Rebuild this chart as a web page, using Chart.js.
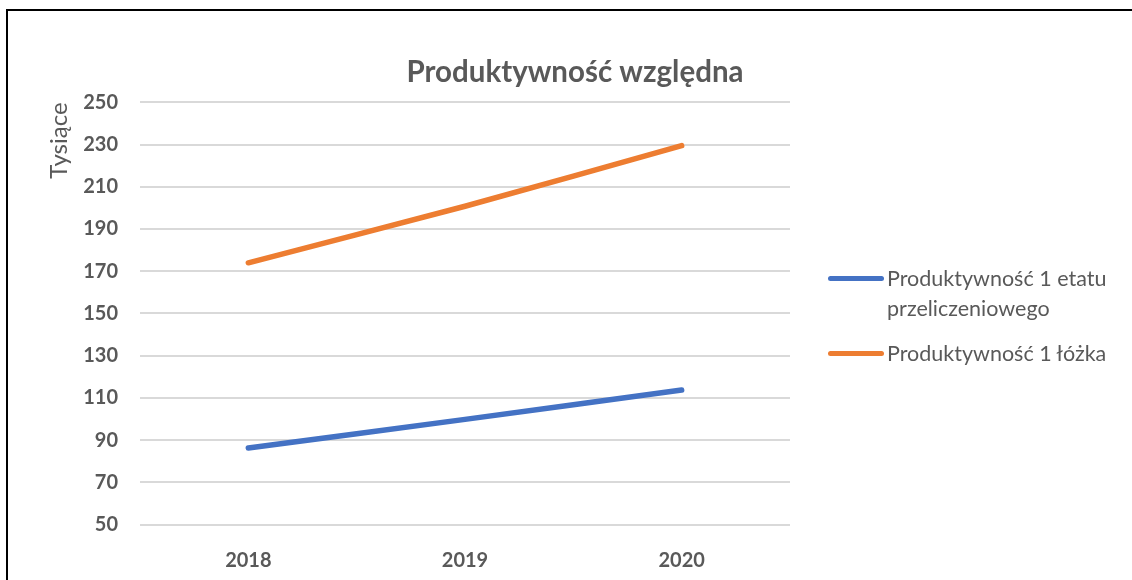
<!DOCTYPE html>
<html lang="pl">
<head>
  <meta charset="UTF-8">
  <title>Produktywność względna</title>
  <script src="https://cdn.jsdelivr.net/npm/chart.js"></script>
  <style>
    body {
      margin: 0;
      background: #fff;
      font-family: Lato, sans-serif;
    }
    #wrap {
      position: relative;
      width: 1132px;
      height: 580px;
      overflow: hidden;
    }
    #frame {
      position: absolute;
      left: 6px;
      top: 9px;
      width: 2000px;
      height: 2000px;
      border-left: 2px solid #000;
      border-top: 2px solid #000;
    }
    #legend {
      position: absolute;
      left: 828px;
      top: 263px;
      color: #595959;
      font-size: 21.5px;
      line-height: 30px;
    }
    .item {
      display: flex;
      align-items: flex-start;
      margin-bottom: 15px;
    }
    .swatch {
      width: 56px;
      height: 5px;
      border-radius: 3px;
      margin-top: 12.5px;
      margin-right: 3px;
      flex: none;
    }
    .label {
      width: 240px;
    }
  </style>
</head>
<body>
  <div id="wrap">
    <div id="frame"></div>
    <canvas id="chart" width="1132" height="580"></canvas>
    <div id="legend"></div>
  </div>

  <script>
    const years = ["2018", "2019", "2020"];
    const etat = [86.2, 99.8, 113.7];   // Produktywność 1 etatu przeliczeniowego
    const lozko = [174, 200.8, 229.5];  // Produktywność 1 łóżka
    const seriesNames = ["Produktywność 1 etatu przeliczeniowego", "Produktywność 1 łóżka"];
    const seriesColors = ["#4472C4", "#ED7D31"];

    const grey = "#595959";

    // puste miejsce po prawej na legendę (tytuł nadal na całą szerokość)
    const rightSpace = {
      id: "rightSpace",
      start(chart) {
        Chart.layouts.addBox(chart, {
          position: "right",
          weight: 0,
          fullSize: false,
          options: {},
          isHorizontal() { return false; },
          update() { this.width = 342; this.height = 0; },
          draw() {}
        });
      }
    };

    new Chart(document.getElementById("chart"), {
      type: "line",
      data: {
        labels: years,
        datasets: [
          {
            label: seriesNames[0],
            data: etat,
            borderColor: seriesColors[0],
            borderWidth: 5.5,
            borderCapStyle: "round",
            pointRadius: 0,
            tension: 0.25,
            fill: false
          },
          {
            label: seriesNames[1],
            data: lozko,
            borderColor: seriesColors[1],
            borderWidth: 5.5,
            borderCapStyle: "round",
            pointRadius: 0,
            tension: 0.25,
            fill: false
          }
        ]
      },
      plugins: [rightSpace],
      options: {
        responsive: false,
        animation: false,
        layout: { padding: { left: 18, right: 0, top: 0, bottom: 0 } },
        plugins: {
          legend: { display: false },
          tooltip: { enabled: false },
          title: {
            display: true,
            text: "Produktywność względna",
            color: grey,
            font: { family: "Lato", size: 29.5, weight: "bold" },
            padding: { top: 55, bottom: 12 }
          }
        },
        scales: {
          x: {
            offset: true,
            grid: { display: false },
            border: { display: false },
            ticks: {
              color: grey,
              padding: 16,
              font: { family: "Lato", size: 20, weight: "bold" }
            },
            afterFit: axis => { axis.height = 55.5; }
          },
          y: {
            min: 50,
            max: 250,
            grid: { color: "#d9d9d9", lineWidth: 2, drawTicks: false },
            border: { display: false },
            ticks: {
              stepSize: 20,
              color: grey,
              padding: 22,
              font: { family: "Lato", size: 20, weight: "bold" }
            },
            title: {
              display: true,
              text: "Tysiące",
              align: "end",
              color: grey,
              font: { family: "Lato", size: 24 },
              padding: { top: 27, bottom: 0 }
            },
            afterFit: axis => { axis.width = 122; }
          }
        }
      }
    });

    // legenda po prawej stronie
    const legend = document.getElementById("legend");
    seriesNames.forEach((name, i) => {
      const div = document.createElement("div");
      div.className = "item";
      div.innerHTML = `<span class="swatch" style="background:${seriesColors[i]}"></span><span class="label">${name}</span>`;
      legend.appendChild(div);
    });
  </script>
</body>
</html>
